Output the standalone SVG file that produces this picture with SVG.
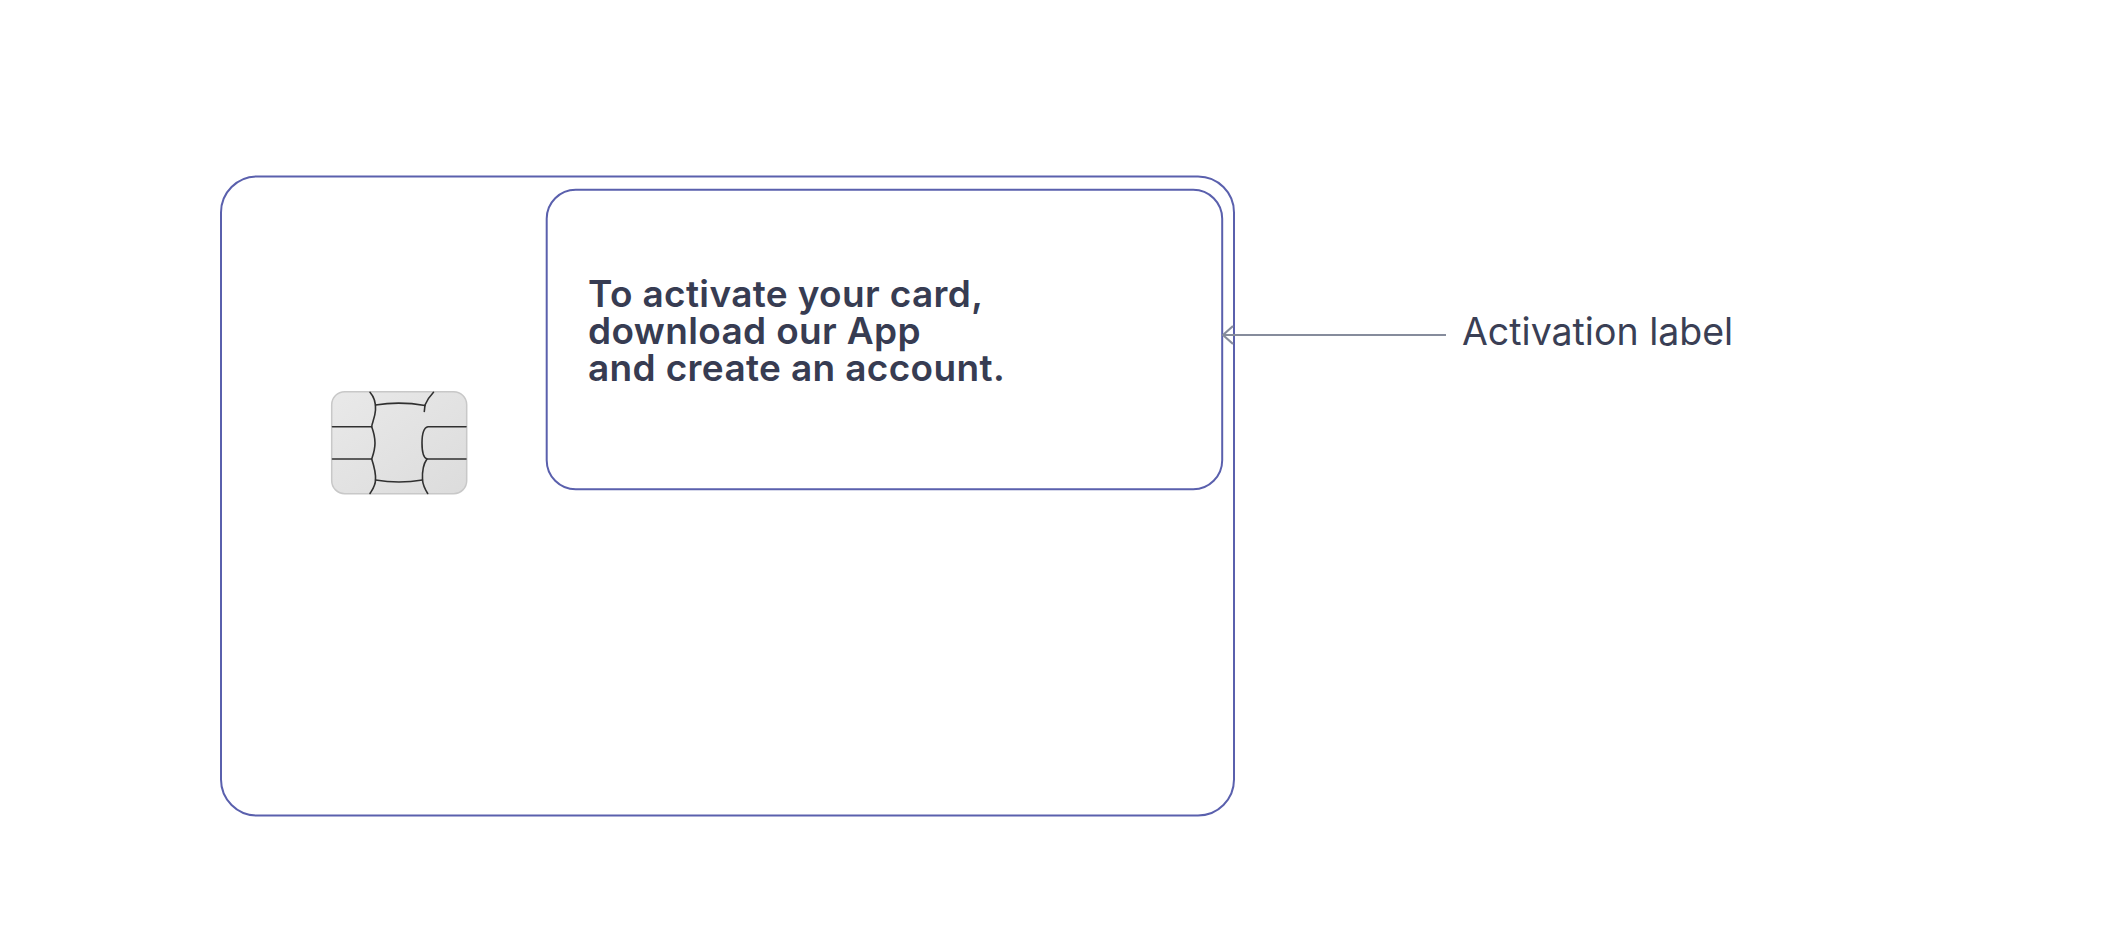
<svg xmlns="http://www.w3.org/2000/svg" width="2101" height="939" viewBox="0 0 2101 939">
  <style>
    .frame { fill: none; stroke: #5a60ad; stroke-width: 2; }
    .chipline { fill: none; stroke: #303030; stroke-width: 1.6; stroke-linecap: round; }
    .conn { fill: none; stroke: #868c9c; stroke-width: 2.2; }
    .main { font-family: Inter, "Liberation Sans", sans-serif; font-weight: 600; font-size: 37px; letter-spacing: 0.35px; fill: #373c52; }
    .label { font-family: Inter, "Liberation Sans", sans-serif; font-weight: 400; font-size: 37.5px; fill: #3a3f55; }
  </style>
  <defs>
    <linearGradient id="chipGrad" x1="0" y1="0" x2="1" y2="1">
      <stop offset="0" stop-color="#e9e9e9"/>
      <stop offset="1" stop-color="#dcdcdc"/>
    </linearGradient>
    <marker id="arrowOpen" viewBox="0 0 12 20" refX="11" refY="10" markerWidth="12" markerHeight="20" markerUnits="userSpaceOnUse" orient="auto">
      <path d="M1,1 L11,10 L1,19" fill="none" stroke="#868c9c" stroke-width="2.2"/>
    </marker>
  </defs>
  <rect width="2101" height="939" fill="#ffffff"/>

  <g id="card">
    <rect class="frame" x="221" y="176.5" width="1013" height="639" rx="36" ry="36"/>
  </g>

  <g id="chip">
    <rect x="331.7" y="391.7" width="135" height="102" rx="13" ry="13" fill="url(#chipGrad)" stroke="#c8c8c8" stroke-width="1.5"/>
    <path class="chipline" d="M370,392.3 C375,398 376,403 375.5,410 C375,418 372,423 371.7,426.7 C374,433 375,438 375,443 C375,450 373,455 371.7,459 C374,466 376,473 375.5,480 C375.5,486 372,490 370,493.5"/>
    <path class="chipline" d="M332.5,426.7 H371.7 M332.5,459 H371.7"/>
    <path class="chipline" d="M375.5,405 Q400,401 425,405.5"/>
    <path class="chipline" d="M433.5,392.3 C430,396 427,400 425,405 L424.3,411.5"/>
    <path class="chipline" d="M466,426.7 H428 C424,427.5 422,432 422,443 C422,452 424,458 427,459 H466"/>
    <path class="chipline" d="M427,459 C424,463 422,470 422.5,480 C423,486 425.5,490 427.7,493.5"/>
    <path class="chipline" d="M375.5,480 Q399,484 422.5,480"/>
  </g>

  <g id="activation-panel">
    <rect class="frame" x="546.7" y="189.7" width="675.5" height="299.6" rx="29" ry="29"/>
    <text class="main" x="588" y="307">
      <tspan x="588" y="307">To activate your card,</tspan>
      <tspan x="588" y="343.5">download our App</tspan>
      <tspan x="588" y="380.5">and create an account.</tspan>
    </text>
  </g>

  <g id="connectors">
    <line class="conn" x1="1446" y1="335" x2="1223" y2="335" marker-end="url(#arrowOpen)"/>
  </g>

  <g id="activation-label">
    <text class="label" x="1462" y="344.5">Activation label</text>
  </g>
</svg>
